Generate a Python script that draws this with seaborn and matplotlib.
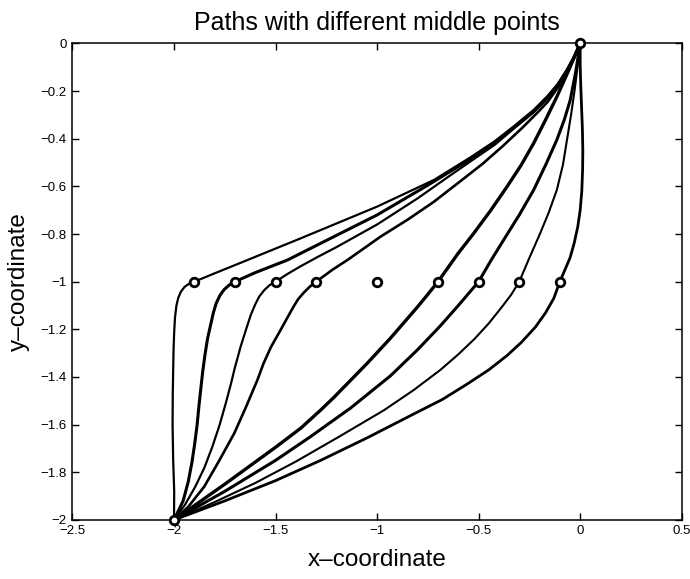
import pandas as pd
import matplotlib
matplotlib.use("Agg")
import matplotlib.pyplot as plt
import seaborn as sns

sns.set_style("ticks")
plt.rcParams['font.family'] = ['Liberation Sans', 'DejaVu Sans']
plt.rcParams['text.color'] = 'black'
plt.rcParams['axes.labelcolor'] = 'black'

# paths, each from (-2,-2) through its middle point to (0,0)
px_m19 = [-2.0, -1.999, -2.004, -2.007, -2.006, -2.004, -2.002, -1.999, -1.995, -1.988,
          -1.979, -1.966, -1.948, -1.925, -1.9,
          -1.8, -1.638, -1.376, -1.0, -0.72, -0.54, -0.42, -0.33, -0.23, -0.16, -0.11, -0.065, -0.03, 0.0]
py_m19 = [-2.0, -1.88, -1.75, -1.6, -1.468, -1.37, -1.28, -1.21, -1.15, -1.1,
          -1.068, -1.042, -1.022, -1.008, -1.0,
          -0.965, -0.909, -0.818, -0.685, -0.573, -0.478, -0.41, -0.35, -0.28, -0.22, -0.17, -0.11, -0.055, 0.0]

px_m17 = [-2.0, -1.955, -1.93, -1.912, -1.898, -1.886, -1.877, -1.868, -1.859, -1.848, -1.835,
          -1.818, -1.806, -1.792, -1.774, -1.753, -1.728, -1.7,
          -1.6, -1.441, -1.376, -1.0, -0.75, -0.54, -0.42, -0.33, -0.23, -0.16, -0.11, -0.065, -0.03, 0.0]
py_m17 = [-2.0, -1.92, -1.84, -1.76, -1.68, -1.6, -1.52, -1.45, -1.38, -1.31, -1.24,
          -1.175, -1.13, -1.09, -1.058, -1.033, -1.014, -1.0,
          -0.962, -0.909, -0.881, -0.72, -0.595, -0.485, -0.415, -0.355, -0.285, -0.225, -0.173, -0.113, -0.057, 0.0]

px_m15 = [-2.0, -1.945, -1.895, -1.85, -1.81, -1.775, -1.745, -1.72, -1.7, -1.671, -1.645,
          -1.622, -1.6, -1.58, -1.555, -1.53, -1.5,
          -1.44, -1.376, -1.29, -1.2, -1.0, -0.8, -0.65, -0.54, -0.42, -0.33, -0.23, -0.16, -0.11, -0.065, -0.03, 0.0]
py_m15 = [-2.0, -1.935, -1.86, -1.78, -1.69, -1.6, -1.51, -1.43, -1.36, -1.27, -1.2,
          -1.14, -1.095, -1.062, -1.035, -1.015, -1.0,
          -0.967, -0.935, -0.895, -0.855, -0.76, -0.65, -0.56, -0.495, -0.425, -0.36, -0.29, -0.23, -0.176, -0.115, -0.058, 0.0]

px_m13 = [-2.0, -1.93, -1.851, -1.78, -1.703, -1.645, -1.589, -1.56, -1.523, -1.48, -1.441,
          -1.415, -1.39, -1.36, -1.33, -1.3,
          -1.22, -1.146, -0.983, -0.85, -0.721, -0.6, -0.48, -0.38, -0.28, -0.21, -0.16, -0.11, -0.065, -0.03, 0.0]
py_m13 = [-2.0, -1.945, -1.86, -1.755, -1.636, -1.525, -1.412, -1.345, -1.275, -1.21, -1.15,
          -1.11, -1.075, -1.045, -1.02, -1.0,
          -0.95, -0.909, -0.811, -0.74, -0.665, -0.585, -0.505, -0.43, -0.35, -0.29, -0.245, -0.185, -0.12, -0.06, 0.0]

px_m07 = [-2.0, -1.75, -1.5, -1.376, -1.278, -1.212, -1.048, -0.934, -0.8, -0.75, -0.7,
          -0.6, -0.524, -0.44, -0.36, -0.29, -0.229, -0.17, -0.115, -0.055, 0.0]
py_m07 = [-2.0, -1.85, -1.695, -1.615, -1.539, -1.485, -1.342, -1.237, -1.105, -1.053, -1.0,
          -0.88, -0.797, -0.7, -0.601, -0.51, -0.419, -0.32, -0.224, -0.11, 0.0]

px_m05 = [-2.0, -1.75, -1.5, -1.327, -1.13, -0.934, -0.8, -0.688, -0.6, -0.55, -0.5,
          -0.44, -0.377, -0.3, -0.229, -0.17, -0.115, -0.078, -0.049, -0.022, 0.0]
py_m05 = [-2.0, -1.88, -1.75, -1.65, -1.53, -1.395, -1.285, -1.185, -1.1, -1.05, -1.0,
          -0.912, -0.825, -0.72, -0.615, -0.51, -0.405, -0.32, -0.238, -0.12, 0.0]

px_m03 = [-2.0, -1.8, -1.6, -1.4, -1.196, -0.967, -0.82, -0.688, -0.6, -0.52, -0.45, -0.38, -0.34, -0.3,
          -0.25, -0.197, -0.155, -0.115, -0.085, -0.065, -0.045, -0.028, -0.013, 0.0]
py_m03 = [-2.0, -1.925, -1.845, -1.755, -1.655, -1.54, -1.455, -1.37, -1.305, -1.24, -1.175, -1.1, -1.055, -1.0,
          -0.9, -0.797, -0.71, -0.615, -0.51, -0.405, -0.3, -0.2, -0.1, 0.0]

px_m01 = [-2.0, -1.75, -1.5, -1.278, -1.048, -0.819, -0.68, -0.557, -0.45, -0.36, -0.29, -0.22,
          -0.17, -0.13, -0.1,
          -0.075, -0.05, -0.03, -0.012, 0.0, 0.008, 0.012, 0.013, 0.011, 0.007, 0.003, 0.0, 0.0]
py_m01 = [-2.0, -1.92, -1.835, -1.75, -1.655, -1.555, -1.495, -1.43, -1.37, -1.31, -1.255, -1.19,
          -1.13, -1.07, -1.0,
          -0.95, -0.9, -0.84, -0.77, -0.7, -0.62, -0.53, -0.45, -0.36, -0.27, -0.18, -0.09, 0.0]

mid_x = [-1.9, -1.7, -1.5, -1.3, -1.0, -0.7, -0.5, -0.3, -0.1]
mid_y = [-1.0, -1.0, -1.0, -1.0, -1.0, -1.0, -1.0, -1.0, -1.0]
end_x = [-2.0, 0.0]
end_y = [-2.0, 0.0]

xticks = [-2.5, -2, -1.5, -1, -0.5, 0, 0.5]
xtick_labels = ['\u22122.5', '\u22122', '\u22121.5', '\u22121', '\u22120.5', '0', '0.5']
yticks = [-2, -1.8, -1.6, -1.4, -1.2, -1, -0.8, -0.6, -0.4, -0.2, 0]
ytick_labels = ['\u22122', '\u22121.8', '\u22121.6', '\u22121.4', '\u22121.2', '\u22121',
                '\u22120.8', '\u22120.6', '\u22120.4', '\u22120.2', '0']

paths = [(px_m19, py_m19, 1.6), (px_m17, py_m17, 2.2), (px_m15, py_m15, 1.6),
         (px_m13, py_m13, 1.9), (px_m07, py_m07, 2.4), (px_m05, py_m05, 2.2),
         (px_m03, py_m03, 1.5), (px_m01, py_m01, 2.0)]

fig = plt.figure(figsize=(6.9, 5.79), dpi=100)
ax = fig.add_axes([0.105, 0.102, 0.883, 0.823])

for xs, ys, lw in paths:
    df = pd.DataFrame({'x': xs, 'y': ys})
    sns.lineplot(data=df, x='x', y='y', sort=False, estimator=None, color='black',
                 linewidth=lw, ax=ax, solid_joinstyle='round', solid_capstyle='round')

pts = pd.DataFrame({'x': mid_x + end_x, 'y': mid_y + end_y})
sns.scatterplot(data=pts, x='x', y='y', marker='o', s=38, facecolor='white',
                edgecolor='black', linewidth=2.0, ax=ax, zorder=5, clip_on=False)

ax.set_xlim(-2.5, 0.5)
ax.set_ylim(-2, 0)
ax.set_xticks(xticks)
ax.set_xticklabels(xtick_labels)
ax.set_yticks(yticks)
ax.set_yticklabels(ytick_labels)
ax.tick_params(direction='in', length=5, width=1, top=True, right=True,
               labelsize=9.5, colors='black', pad=4)
for sp in ax.spines.values():
    sp.set_linewidth(1.1)
    sp.set_color('black')

ax.set_title('Paths with different middle points', fontsize=18, pad=10, color='black')
ax.set_xlabel('x\u2013coordinate', fontsize=17.5, labelpad=8)
ax.set_ylabel('y\u2013coordinate', fontsize=17.5, labelpad=8)

fig.savefig('out.png', dpi=100)
